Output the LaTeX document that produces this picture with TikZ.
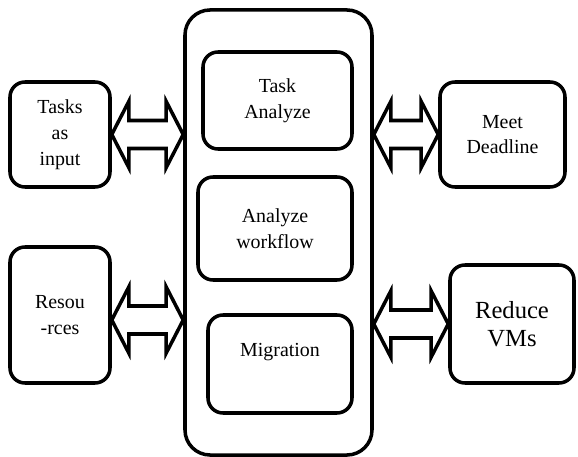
\documentclass[tikz,border=0pt]{standalone}
\usepackage{fontspec}
\setmainfont{Liberation Serif}
\newfontfamily\boxfont{Liberation Serif}
\usetikzlibrary{calc}

\tikzset{
  box/.style={draw, line width=3pt, rounded corners=0.45cm, align=center,
    font=\boxfont\fontsize{17}{22}\selectfont},
  bigtext/.style={font=\boxfont\fontsize{21}{24}\selectfont},
  fatline/.style={draw, line width=3pt, fill=white, line join=miter},
}
% hollow double arrow between two points at the same height
\newcommand{\dblarrow}[2]{%
  \draw[fatline] let \p1=(#1), \p2=(#2) in
    (\x1,\y1) -- (\x1+0.51cm,\y1+0.99cm) -- (\x1+0.51cm,\y1+0.42cm)
    -- (\x2-0.51cm,\y1+0.42cm) -- (\x2-0.51cm,\y1+0.99cm) -- (\x2,\y1)
    -- (\x2-0.51cm,\y1-0.99cm) -- (\x2-0.51cm,\y1-0.42cm)
    -- (\x1+0.51cm,\y1-0.42cm) -- (\x1+0.51cm,\y1-0.99cm) -- cycle;}

\begin{document}
\begin{tikzpicture}[x=0.03cm, y=-0.03cm]
    \useasboundingbox (0,0) rectangle (578,457);

    % Blocco centrale
    \node[box, rounded corners=0.75cm, minimum width=5.61cm, minimum height=13.35cm] (core) at (278.5,232.5) {};
    \node[box, minimum width=4.47cm, minimum height=2.91cm] (tana) at (277.5,100.5) {Task\\Analyze};
    \node[box, minimum width=4.62cm, minimum height=3.09cm] (awf) at (275,228.5) {Analyze\\workflow};
    \node[box, minimum width=4.32cm, minimum height=2.94cm] (mig) at (280,364) {};
    \node[font=\boxfont\fontsize{17}{22}\selectfont] (miglbl) at ($(mig.center)+(0,-12)$) {Migration};

    % Ingressi
    \node[box, minimum width=3cm, minimum height=3.15cm] (tin) at (60,134.5) {Tasks\\as\\input};
    \node[box, minimum width=3cm, minimum height=4.08cm] (res) at (60,315) {Resou\\-rces};

    % Uscite
    \node[box, minimum width=3.75cm, minimum height=3.15cm] (mdl) at (502.5,134.5) {Meet\\Deadline};
    \node[box, bigtext, minimum width=3.72cm, minimum height=3.54cm] (rvm) at (512,324) {Reduce\\VMs};

    % Frecce doppie
    \dblarrow{tin.east}{core.west |- tin.east}
    \dblarrow{$(res.east)+(0,5)$}{core.west |- {$(res.east)+(0,5)$}}
    \dblarrow{core.east |- mdl.west}{mdl.west}
    \dblarrow{core.east |- rvm.west}{rvm.west}
\end{tikzpicture}
\end{document}
